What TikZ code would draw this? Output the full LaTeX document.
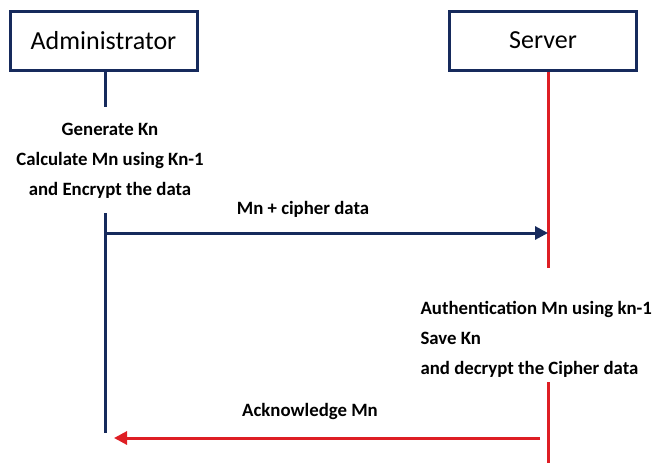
\documentclass[tikz,border=0pt]{standalone}
\usepackage{fontspec}
\setmainfont{Carlito}
\usetikzlibrary{arrows.meta}
\definecolor{navy}{RGB}{22,42,92}
\definecolor{lred}{RGB}{222,30,36}

\begin{document}
\begin{tikzpicture}[x=1pt,y=-1pt,
  actor/.style={draw=navy,line width=3pt,fill=white,minimum width=187pt,minimum height=59pt,font=\fontsize{26}{30}\selectfont},
  note/.style={font=\bfseries\fontsize{18.8}{30}\selectfont},
  msg/.style={line width=3pt,-{Triangle[length=13pt,width=13pt]}}]
\def\xAdm{105}
\def\xSrv{548}
\useasboundingbox (0,0) rectangle (660,463);

% actors
\node[actor] (admin) at (103.5,40.5) {Administrator};
\node[actor] (server) at (543,40.5) {Server};

% lifelines
\coordinate (a1) at (\xAdm,107);
\coordinate (a2) at (\xAdm,213);
\coordinate (a3) at (\xAdm,433);
\coordinate (s1) at (\xSrv,268);
\coordinate (s2) at (\xSrv,382);
\coordinate (s3) at (\xSrv,463);
\begin{scope}[line width=3pt]
\draw[navy] (admin.south -| a1) -- (a1);
\draw[navy] (a2) -- (a3);
\draw[lred] (server.south -| s1) -- (s1);
\draw[lred] (s2) -- (s3);
\end{scope}

% notes
\node[note,align=center] (gen) at (110,161) {Generate Kn\\Calculate Mn using Kn-1\\and Encrypt the data};
\node[note,align=left,anchor=west] (auth) at (417,339) {Authentication Mn using kn-1\\Save Kn\\and decrypt the Cipher data};

% messages
\coordinate (m1s) at (\xAdm,233);
\coordinate (m1e) at (\xSrv,233);
\coordinate (m2s) at (540,438);
\coordinate (m2e) at (114,438);
\draw[msg,navy] (m1s) -- (m1e);
\draw[msg,lred] (m2s) -- (m2e);
\node[note] (cipher) at (303,209) {Mn + cipher data};
\node[note] (ack) at (310,411) {Acknowledge Mn};
\end{tikzpicture}
\end{document}
